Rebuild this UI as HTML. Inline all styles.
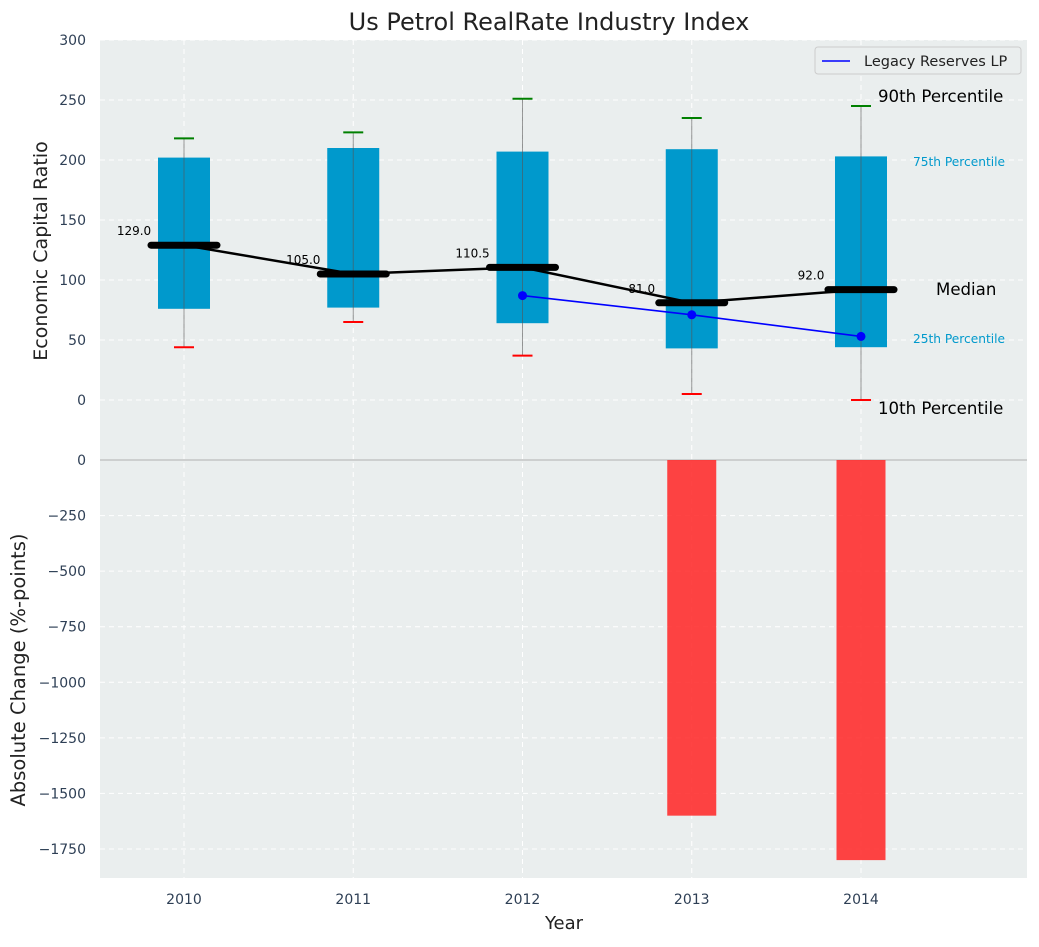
<!DOCTYPE html>
<html><head><meta charset="utf-8"><style>
body{margin:0;background:#fff;font-family:"Liberation Sans","DejaVu Sans",sans-serif}
svg text{font-family:"DejaVu Sans","Liberation Sans",sans-serif}
</style></head><body>
<svg id="c" width="1039" height="942" xmlns="http://www.w3.org/2000/svg"></svg>
<script>
const years=[2010,2011,2012,2013,2014];
const p10=[44,65,37,5,0];
const p25=[76,77,64,43,44];
const med=[129,105,110.5,81,92];
const p75=[202,210,207,209,203];
const p90=[218,223,251,235,245];
const legYears=[2012,2013,2014];
const legVals=[87,71,53];
const chgYears=[2013,2014];
const chgVals=[-1600,-1800];
const topTicks=[0,50,100,150,200,250,300];
const botTicks=[0,-250,-500,-750,-1000,-1250,-1500,-1750];

const NS="http://www.w3.org/2000/svg";
const svg=document.getElementById('c');
const X=v=>184+(v-2010)*169.25;
const YT=v=>400-v*1.2;
const YB=v=>460-v*(389/1750);
function el(t,a,p){const e=document.createElementNS(NS,t);for(const k in a)e.setAttribute(k,a[k]);(p||svg).appendChild(e);return e;}
function tx(s,a){const e=el('text',a);e.textContent=s;return e;}
const fmt=v=>String(v).replace('-','\u2212');

let bg=el('rect',{x:100,y:40,width:927,height:420,fill:'#eaeeee'});

let bg2=el('rect',{x:100,y:460,width:927,height:418,fill:'#eaeeee'});

years.forEach(y=>{el('line',{x1:X(y),x2:X(y),y1:40,y2:878,stroke:'#fff','stroke-dasharray':'5,4','stroke-width':1});});
topTicks.forEach(t=>{el('line',{x1:100,x2:1027,y1:YT(t),y2:YT(t),stroke:'#fff','stroke-dasharray':'5,4'});
 const l=tx(fmt(t),{x:86,y:YT(t)+5,'text-anchor':'end','font-size':14,fill:'#2e3f55'});
 });
botTicks.forEach(t=>{el('line',{x1:100,x2:1027,y1:YB(t),y2:YB(t),stroke:'#fff','stroke-dasharray':'5,4'});
 const l=tx(fmt(t),{x:86,y:YB(t)+5,'text-anchor':'end','font-size':14,fill:'#2e3f55'});
 });
el('line',{x1:100,x2:1027,y1:460,y2:460,stroke:'#b0b0b0','stroke-width':1});
years.forEach(y=>{const l=tx(y,{x:X(y),y:904,'text-anchor':'middle','font-size':14,fill:'#2e3f55'});
 });

years.forEach((y,i)=>{
 const b=el('rect',{x:X(y)-26,y:YT(p75[i]),width:52,height:YT(p25[i])-YT(p75[i]),fill:'#0099cc'});
 
 el('line',{x1:X(y),x2:X(y),y1:YT(p90[i]),y2:YT(p10[i]),stroke:'#555','stroke-opacity':0.6,'stroke-width':1});
 const c1=el('line',{x1:X(y)-10,x2:X(y)+10,y1:YT(p90[i]),y2:YT(p90[i]),stroke:'green','stroke-width':2});
 
 const c2=el('line',{x1:X(y)-10,x2:X(y)+10,y1:YT(p10[i]),y2:YT(p10[i]),stroke:'red','stroke-width':2});
 
});
chgYears.forEach((y,i)=>{const b=el('rect',{x:X(y)-24.5,y:460,width:49,height:YB(chgVals[i])-460,fill:'#ff2a2a','fill-opacity':0.88});
 });
const ml=el('polyline',{points:years.map((y,i)=>X(y)+','+YT(med[i])).join(' '),fill:'none',stroke:'#000','stroke-width':2.5});

years.forEach((y,i)=>{const m=el('line',{x1:X(y)-33,x2:X(y)+33,y1:YT(med[i]),y2:YT(med[i]),stroke:'#000','stroke-width':7,'stroke-linecap':'round'});
 
 const l=tx(med[i].toFixed(1),{x:X(y)-50,y:YT(med[i])-10,'text-anchor':'middle','font-size':12,fill:'#000'});
 });
const lg=el('polyline',{points:legYears.map((y,i)=>X(y)+','+YT(legVals[i])).join(' '),fill:'none',stroke:'#0000ff','stroke-width':1.6});

legYears.forEach((y,i)=>{const p=el('circle',{cx:X(y),cy:YT(legVals[i]),r:4.5,fill:'#0000ff'});
 });
[['90th Percentile',878,102,16.6,'#000'],['75th Percentile',913,166,12.2,'#0099cc'],['Median',936,295,16.6,'#000'],['25th Percentile',913,343,12.2,'#0099cc'],['10th Percentile',878,414,16.6,'#000']].forEach(a=>{
 const l=tx(a[0],{x:a[1],y:a[2],'font-size':a[3],fill:a[4]});});
const lgb=el('rect',{x:815,y:47,width:206,height:27,rx:3,fill:'#eaeeee',stroke:'#ccc'});

el('line',{x1:822,x2:850,y1:61,y2:61,stroke:'#0000ff','stroke-width':1.6});
const le=tx('Legacy Reserves LP',{x:864,y:66,'font-size':14.5,fill:'#222'});

let t=tx('Us Petrol RealRate Industry Index',{x:549,y:30,'text-anchor':'middle','font-size':24,fill:'#222'});

t=tx('Year',{x:564,y:929,'text-anchor':'middle','font-size':18,fill:'#222'});

t=tx('Economic Capital Ratio',{x:0,y:0,'text-anchor':'middle','font-size':19,fill:'#222',transform:'translate(47,251) rotate(-90)'});

t=tx('Absolute Change (%-points)',{x:0,y:0,'text-anchor':'middle','font-size':19.5,fill:'#222',transform:'translate(25,670) rotate(-90)'});

</script>
</body></html>
